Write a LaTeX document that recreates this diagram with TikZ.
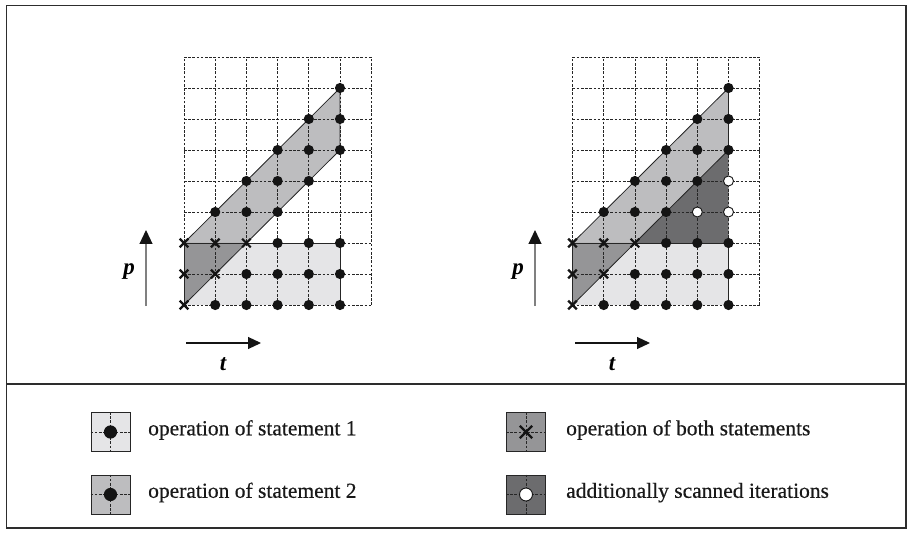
\documentclass[tikz,border=0pt]{standalone}
\usepackage{fontspec}
\setmainfont{Liberation Serif}
\newfontfamily\legfont{Liberation Serif}[FakeBold=0.5]
\usetikzlibrary{arrows.meta}
\definecolor{cone}{RGB}{229,229,231}
\definecolor{ctwo}{RGB}{189,189,191}
\definecolor{cboth}{RGB}{149,149,151}
\definecolor{cextra}{RGB}{108,108,110}
\definecolor{cframe}{RGB}{45,45,45}
\tikzset{
  gridline/.style={black!85, line width=0.75pt, dash pattern=on 2.6pt off 1.6pt},
  edgeline/.style={black!85, line width=0.8pt},
  dotm/.pic={\fill[black!92] (0,0) circle[radius=5.1pt];},
  crossm/.pic={\draw[black!92, line width=2.2pt] (-4.3pt,-4.3pt) -- (4.3pt,4.3pt) (-4.3pt,4.3pt) -- (4.3pt,-4.3pt);},
  whitem/.pic={\filldraw[fill=white, draw=black!92, line width=0.9pt] (0,0) circle[radius=5pt];},
  parrow/.style={draw=black!50, line width=1.2pt, -{Triangle[length=14pt,width=13pt,color=black!92]}},
  tarrow/.style={draw=black!92, line width=1.1pt, -{Triangle[length=13pt,width=12pt]}},
  axislabel/.style={font=\fontsize{23}{26}\selectfont\bfseries\itshape, inner sep=0pt},
  legbox/.style={draw=black!85, line width=0.9pt, minimum width=39pt, minimum height=39pt, inner sep=0pt},
  legtext/.style={font=\legfont\fontsize{21.5}{26}\selectfont, anchor=mid west, inner sep=0pt, text=black!90},
}
\begin{document}
\begin{tikzpicture}[x=1pt,y=-1pt]
\useasboundingbox (0,0) rectangle (909,534);
% frame
\draw[cframe, line width=1.3pt] (6.5,5.5) rectangle (906,528);
\draw[cframe, line width=1.2pt] (6.5,384) -- (906,384);

% ---------- left diagram ----------
\begin{scope}[shift={(184,305)}, x=31.2pt, y=31pt]
  \fill[cone] (0,0) rectangle (5,2);
  \fill[ctwo] (0,0) -- (5,5) -- (5,7) -- (0,2) -- cycle;
  \fill[cboth] (0,0) -- (2,2) -- (0,2) -- cycle;
  \foreach \i in {0,...,6} \draw[gridline] (\i,0) -- (\i,8);
  \foreach \j in {0,...,8} \draw[gridline] (0,\j) -- (6,\j);
  \draw[edgeline] (0,0) -- (0,2) -- (5,2) -- (5,0);
  \draw[edgeline] (0,0) -- (5,5) -- (5,7) -- (0,2);
  \foreach \p in {(1,0),(2,0),(3,0),(4,0),(5,0),(2,1),(3,1),(4,1),(5,1),(3,2),(4,2),(5,2),
                  (1,3),(2,3),(3,3),(2,4),(3,4),(4,4),(3,5),(4,5),(5,5),(4,6),(5,6),(5,7)}
    \pic at \p {dotm};
  \foreach \p in {(0,0),(0,1),(0,2),(1,1),(1,2),(2,2)}
    \pic at \p {crossm};
\end{scope}
\coordinate (lpa) at (146,306);
\coordinate (lpb) at (146,230);
\draw[parrow] (lpa) -- (lpb);
\node[axislabel] (lp) at (129,272) {p};
\coordinate (lta) at (186,343);
\coordinate (ltb) at (261,343);
\draw[tarrow] (lta) -- (ltb);
\node[axislabel] (lt) at (223,364) {t};

% ---------- right diagram ----------
\begin{scope}[shift={(572.5,305)}, x=31.2pt, y=31pt]
  \fill[cone] (0,0) rectangle (5,2);
  \fill[ctwo] (0,0) -- (5,5) -- (5,7) -- (0,2) -- cycle;
  \fill[cboth] (0,0) -- (2,2) -- (0,2) -- cycle;
  \fill[cextra] (2,2) -- (5,5) -- (5,2) -- cycle;
  \foreach \i in {0,...,6} \draw[gridline] (\i,0) -- (\i,8);
  \foreach \j in {0,...,8} \draw[gridline] (0,\j) -- (6,\j);
  \draw[edgeline] (0,0) -- (0,2) -- (5,2) -- (5,0);
  \draw[edgeline] (0,0) -- (5,5) -- (5,7) -- (0,2);
  \foreach \p in {(1,0),(2,0),(3,0),(4,0),(5,0),(2,1),(3,1),(4,1),(5,1),(3,2),(4,2),(5,2),
                  (1,3),(2,3),(3,3),(2,4),(3,4),(4,4),(3,5),(4,5),(5,5),(4,6),(5,6),(5,7)}
    \pic at \p {dotm};
  \foreach \p in {(0,0),(0,1),(0,2),(1,1),(1,2),(2,2)}
    \pic at \p {crossm};
  \foreach \p in {(4,3),(5,3),(5,4)}
    \pic at \p {whitem};
\end{scope}
\coordinate (rpa) at (535,306);
\coordinate (rpb) at (535,230);
\draw[parrow] (rpa) -- (rpb);
\node[axislabel] (rp) at (518,272) {p};
\coordinate (rta) at (575,343);
\coordinate (rtb) at (650,343);
\draw[tarrow] (rta) -- (rtb);
\node[axislabel] (rt) at (612,364) {t};

% ---------- legend ----------
\node[legbox, fill=cone] (b1) at (110.5,432) {};
\node[legbox, fill=ctwo] (b2) at (110.5,494.5) {};
\node[legbox, fill=cboth] (b3) at (526,432) {};
\node[legbox, fill=cextra] (b4) at (526,494.5) {};
\foreach \b in {b1,b2,b3,b4}{
  \draw[gridline] (\b.north) -- (\b.south);
  \draw[gridline] (\b.west) -- (\b.east);
}
\pic[scale=1.3] at (b1.center) {dotm};
\pic[scale=1.3] at (b2.center) {dotm};
\pic[scale=1.45] at (b3.center) {crossm};
\pic[scale=1.3] at (b4.center) {whitem};
\node[legtext] (t1) at (148,433) {operation of statement 1};
\node[legtext] (t2) at (148,495.5) {operation of statement 2};
\node[legtext] (t3) at (566,433) {operation of both statements};
\node[legtext] (t4) at (566,495.5) {additionally scanned iterations};
\end{tikzpicture}
\end{document}
